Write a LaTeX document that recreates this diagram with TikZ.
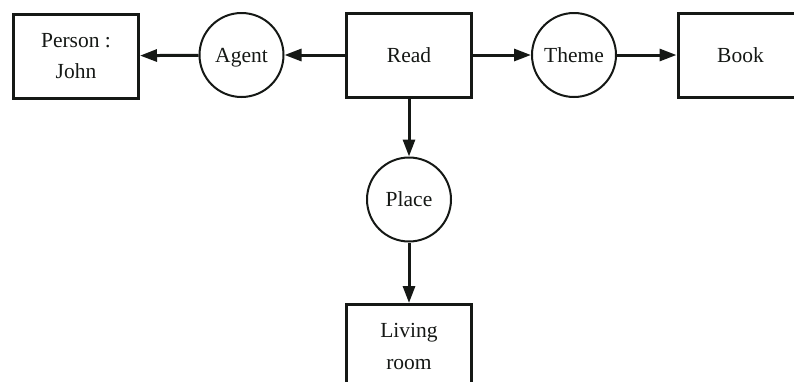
\documentclass[tikz,border=0pt]{standalone}
\usepackage{fontspec}
\setmainfont{Liberation Serif}
\usetikzlibrary{arrows.meta}
\definecolor{ink}{HTML}{151815}
\begin{document}
\begin{tikzpicture}[x=1pt,y=-1pt,
  every node/.style={font=\fontsize{21.5}{31.5}\selectfont, text=ink, align=center, inner sep=0pt, text height=14pt, text depth=0pt},
  twoline/.style={text height=45.5pt, text depth=0pt},
  boxnode/.style={draw=ink, line width=3pt, minimum width=125pt, minimum height=84pt},
  rolenode/.style={circle, draw=ink, line width=2pt, minimum size=84pt},
  link/.style={draw=ink, line width=3pt, -{Triangle[length=17pt,width=12pt]}}]
\clip (0,0) rectangle (794,381);
\node[boxnode, twoline] (person) at (76,56) {Person :\\John};
\node[rolenode] (agent) at (241.5,55) {Agent};
\node[boxnode] (read) at (409,55) {Read};
\node[rolenode] (theme) at (574,55) {Theme};
\node[boxnode] (book) at (740.5,55) {Book};
\node[rolenode] (place) at (409,199.5) {Place};
\node[boxnode, twoline] (living) at (409,346.5) {Living\\room};
\draw[link] (read) -- (agent);
\draw[link] (agent) -- (person);
\draw[link] (read) -- (theme);
\draw[link] (theme) -- (book);
\draw[link] (read) -- (place);
\draw[link] (place) -- (living);
\end{tikzpicture}
\end{document}
